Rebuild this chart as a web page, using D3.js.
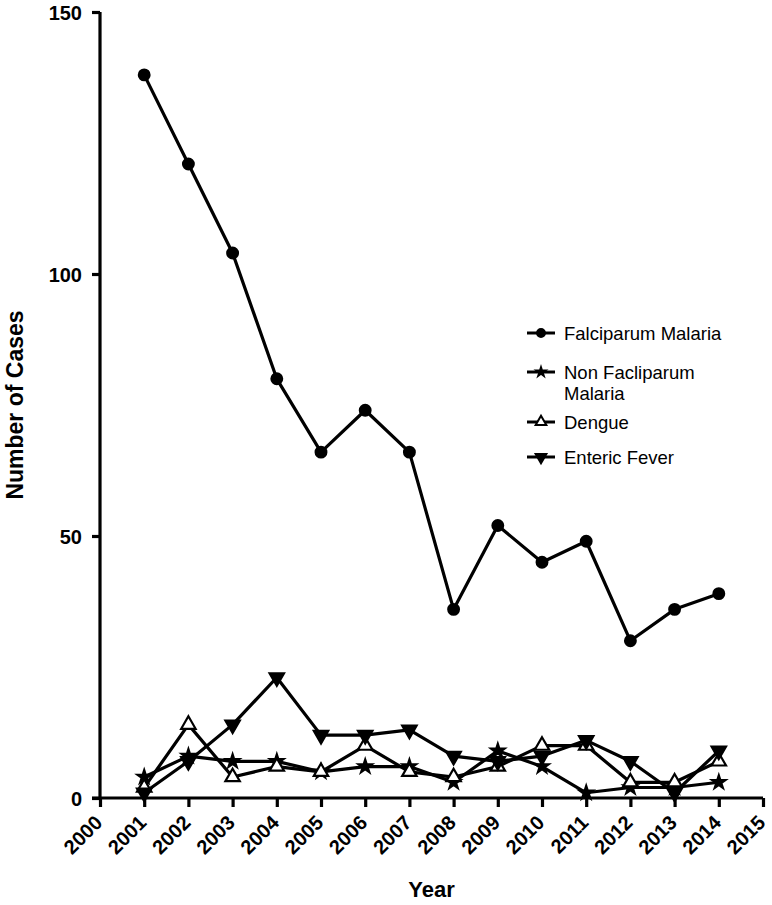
<!DOCTYPE html>
<html>
<head>
<meta charset="utf-8">
<script src="https://cdn.jsdelivr.net/npm/d3@7"></script>
<style>
  html, body { margin: 0; padding: 0; background: #fff; }
  svg { display: block; font-family: "Liberation Sans", Arial, Helvetica, sans-serif; }
</style>
</head>
<body>
<svg id="chart" width="772" height="905"></svg>
<script>
const years = [2001, 2002, 2003, 2004, 2005, 2006, 2007, 2008, 2009, 2010, 2011, 2012, 2013, 2014];
const falciparum = [138, 121, 104, 80, 66, 74, 66, 36, 52, 45, 49, 30, 36, 39];
const nonFalciparum = [4, 8, 7, 7, 5, 6, 6, 3, 9, 6, 1, 2, 2, 3];
const dengue = [2, 14, 4, 6, 5, 10, 5, 4, 6, 10, 10, 3, 3, 7];
const enteric = [1, 7, 14, 23, 12, 12, 13, 8, 7, 8, 11, 7, 1, 9];
const xTicks = d3.range(2000, 2016);
const yTicks = [0, 50, 100, 150];
const seriesNames = ["Falciparum Malaria", "Non Facliparum\nMalaria", "Dengue", "Enteric Fever"];
const seriesValues = [falciparum, nonFalciparum, dengue, enteric];

const svg = d3.select("#chart");
const x = d3.scaleLinear().domain([2000, 2015]).range([100, 763]);
const y = d3.scaleLinear().domain([0, 150]).range([798, 12]);

// Axes
const yAxis = svg.append("g").attr("transform", "translate(100,0)")
  .call(d3.axisLeft(y).tickValues(yTicks).tickSize(8).tickPadding(10).tickSizeOuter(0));
const xAxis = svg.append("g").attr("transform", "translate(0,798)")
  .call(d3.axisBottom(x).tickValues(xTicks).tickSize(9).tickFormat(d3.format("d")).tickSizeOuter(0));

[yAxis, xAxis].forEach(g => {
  g.select(".domain").attr("stroke", "#000").attr("stroke-width", 3.2);
  g.selectAll(".tick line").attr("stroke", "#000").attr("stroke-width", 3.2);
  g.selectAll("text").attr("fill", "#000").style("font-weight", "bold").style("font-size", "20px")
    .style("font-family", "'Liberation Sans', Arial, sans-serif");
});
yAxis.select(".domain").attr("d", "M0,798V12");
xAxis.select(".domain").attr("d", "M92,0H763");
yAxis.selectAll(".tick text").attr("dy", "0.36em");
xAxis.selectAll(".tick text")
  .attr("text-anchor", "end")
  .attr("y", 0).attr("dy", 0)
  .style("font-size", "20px")
  .attr("transform", "translate(3,26) rotate(-45)");

// Axis titles
svg.append("text").attr("x", x(2007.5)).attr("y", 897).attr("text-anchor", "middle")
  .style("font-weight", "bold").style("font-size", "22px").text("Year");
svg.append("text").attr("transform", `translate(23,${(y(0) + y(150)) / 2}) rotate(-90)`)
  .attr("text-anchor", "middle").style("font-weight", "bold").style("font-size", "23px")
  .text("Number of Cases");

// Markers
const markerDefs = [
  { type: d3.symbolCircle, size: 90, fill: "#000", rot: 0, sw: 2.2 },
  { type: d3.symbolStar, size: 45, fill: "#000", rot: 0, sw: 2.6 },
  { type: d3.symbolTriangle, size: 90, fill: "#fff", rot: 0, sw: 2.2 },
  { type: d3.symbolTriangle, size: 90, fill: "#000", rot: 180, sw: 2.2 }
];

const line = d3.line().x((d, i) => x(years[i])).y(d => y(d));

seriesValues.forEach((vals, si) => {
  svg.append("path").datum(vals).attr("d", line).attr("fill", "none")
    .attr("stroke", "#000").attr("stroke-width", 3.2).attr("stroke-linejoin", "round");
});
seriesValues.forEach((vals, si) => {
  const m = markerDefs[si];
  svg.append("g").selectAll("path").data(vals).join("path")
    .attr("d", d3.symbol().type(m.type).size(m.size))
    .attr("transform", (d, i) => `translate(${x(years[i])},${y(d)}) rotate(${m.rot})`)
    .attr("fill", m.fill).attr("stroke", "#000").attr("stroke-width", m.sw);
});

// Legend
const legendRows = [333, 372, 422, 457];
const legend = svg.append("g");
seriesNames.forEach((name, i) => {
  const yy = legendRows[i];
  const m = markerDefs[i];
  legend.append("line").attr("x1", 527).attr("x2", 555).attr("y1", yy).attr("y2", yy)
    .attr("stroke", "#000").attr("stroke-width", 3);
  legend.append("path").attr("d", d3.symbol().type(m.type).size(m.size * 0.55))
    .attr("transform", `translate(541,${yy}) rotate(${m.rot})`)
    .attr("fill", m.fill).attr("stroke", "#000").attr("stroke-width", 2);
  const t = legend.append("text").attr("x", 564).attr("y", yy)
    .style("font-size", "18.5px").attr("fill", "#000");
  name.split("\n").forEach((part, j) => {
    t.append("tspan").attr("x", 564).attr("dy", j === 0 ? "0.36em" : "1.15em").text(part);
  });
});
</script>
</body>
</html>
